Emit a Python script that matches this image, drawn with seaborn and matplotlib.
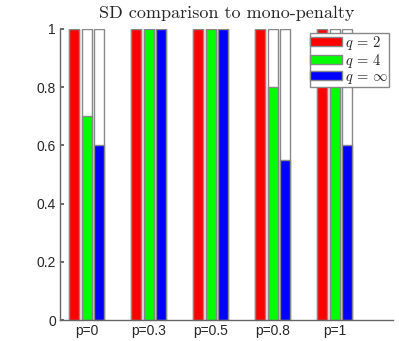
import numpy as np
import pandas as pd
import matplotlib
matplotlib.use("Agg")
import matplotlib.pyplot as plt
from matplotlib.patches import Patch
import seaborn as sns

# valori
groups = ["p=0", "p=0.3", "p=0.5", "p=0.8", "p=1"]
q_labels = ["$q\\,=\\,2$", "$q\\,=\\,4$", "$q\\,=\\,\\infty$"]
q2 = [1.0, 1.0, 1.0, 1.0, 1.0]
q4 = [0.7, 1.0, 1.0, 0.8, 0.9]
qinf = [0.6, 1.0, 1.0, 0.55, 0.6]
ref = [1.0, 1.0, 1.0, 1.0, 1.0]  # barre vuote di riferimento

colors = ["#ff0000", "#00ff00", "#0000ff"]
edge = "#888888"

df = pd.DataFrame({
    "group": groups * 3,
    "q": [q_labels[0]] * 5 + [q_labels[1]] * 5 + [q_labels[2]] * 5,
    "value": q2 + q4 + qinf,
    "ref": ref * 3,
})

sns.set_theme(style="white")
plt.rcParams["font.family"] = ["Liberation Sans", "DejaVu Sans"]
plt.rcParams["mathtext.fontset"] = "cm"

fig = plt.figure(figsize=(3.99, 3.41), dpi=100)
ax = fig.add_axes([60 / 399, 21 / 341, 333 / 399, 291 / 341])

# sfondo bianco a quota 1
sns.barplot(data=df, x="group", y="ref", hue="q", order=groups, hue_order=q_labels,
            palette=["white"] * 3, width=0.6, gap=0.2, edgecolor=edge, linewidth=1,
            saturation=1, legend=False, ax=ax)
# barre colorate
sns.barplot(data=df, x="group", y="value", hue="q", order=groups, hue_order=q_labels,
            palette=colors, width=0.6, gap=0.2, edgecolor=edge, linewidth=1,
            saturation=1, legend=False, ax=ax)

ax.set_xlim(-0.432, 4.94)
ax.set_ylim(0, 1)
ax.set_yticks([0, 0.2, 0.4, 0.6, 0.8, 1])
ax.set_yticklabels(["0", "0.2", "0.4", "0.6", "0.8", "1"])
ax.set_xlabel("")
ax.set_ylabel("")
ax.tick_params(axis="both", labelsize=10, direction="in", length=3, color="#555555",
               left=True, bottom=False, pad=3)
for s in ["top", "right"]:
    ax.spines[s].set_visible(False)
for s in ["left", "bottom"]:
    ax.spines[s].set_color("#666666")
    ax.spines[s].set_linewidth(1)

ax.set_title("SD comparison to mono-penalty", fontfamily="cmr10", fontsize=13, pad=8)

handles = [Patch(facecolor=c, edgecolor=edge) for c in colors]
leg = ax.legend(handles, q_labels, loc="upper right", bbox_to_anchor=(0.988, 0.986),
                fontsize=10.5, fancybox=False, framealpha=1, edgecolor=edge,
                borderpad=0.05, handlelength=2.2, handleheight=0.6, handletextpad=0.2,
                labelspacing=0.0, borderaxespad=0)
leg.get_frame().set_linewidth(1)

fig.savefig("out.png", dpi=100)
